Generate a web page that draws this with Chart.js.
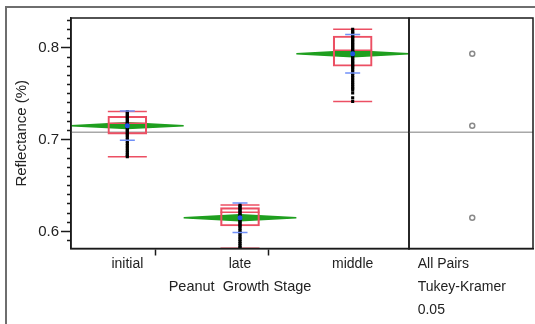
<!DOCTYPE html>
<html>
<head>
<meta charset="utf-8">
<script src="https://cdn.jsdelivr.net/npm/chart.js@4"></script>
<style>
  html, body { margin: 0; padding: 0; background: #fff; overflow: hidden; }
  #wrap { position: relative; width: 535px; height: 324px; }
  #outer { position: absolute; left: 5px; top: 6px; width: 560px; height: 340px; border: 2px solid #6e6e6e; box-sizing: border-box; }
  canvas { position: absolute; top: 0; }
  #main { left: 0; }
  #pairs { left: 408px; }
</style>
</head>
<body>
<div id="wrap">
  <div id="outer"></div>
  <canvas id="main" width="410" height="324"></canvas>
  <canvas id="pairs" width="127" height="324"></canvas>
</div>
<script>
const categories = ['initial', 'late', 'middle'];

const initialObs = [0.7306, 0.729, 0.7275, 0.726, 0.7245, 0.723, 0.7215, 0.720, 0.7185, 0.717, 0.716, 0.7145, 0.713, 0.7115, 0.710, 0.7085, 0.707, 0.7055, 0.704, 0.702, 0.700, 0.698, 0.696, 0.694, 0.692, 0.690, 0.688, 0.686, 0.684, 0.6825, 0.6814];
const lateObs = [0.629, 0.6275, 0.626, 0.6245, 0.623, 0.6215, 0.620, 0.6185, 0.617, 0.6155, 0.614, 0.6125, 0.611, 0.6095, 0.608, 0.6065, 0.605, 0.603, 0.601, 0.599, 0.597, 0.595, 0.593, 0.591, 0.589, 0.587, 0.585, 0.583, 0.582];
const middleObs = [0.8202, 0.8185, 0.817, 0.8155, 0.814, 0.8125, 0.811, 0.8095, 0.808, 0.8065, 0.805, 0.8035, 0.802, 0.8005, 0.799, 0.7975, 0.796, 0.7945, 0.793, 0.7915, 0.790, 0.7885, 0.787, 0.7855, 0.784, 0.7825, 0.781, 0.7795, 0.778, 0.776, 0.774, 0.772, 0.770, 0.768, 0.766, 0.764, 0.762, 0.760, 0.758, 0.756, 0.7545, 0.751, 0.7455, 0.7415];

const means = [0.7153, 0.6150, 0.7936];
const meanCI = [0.0032, 0.0032, 0.0032];
const stdDevs = [0.016, 0.016, 0.021];
const q1 = [0.7061, 0.6060, 0.7800];
const medians = [0.7180, 0.6210, 0.7973];
const q3 = [0.7255, 0.6260, 0.8129];
const whiskerLow = [0.6814, 0.5818, 0.7415];
const whiskerHigh = [0.7306, 0.6290, 0.8202];
const grandMean = 0.708;

const yLabels = [0.6, 0.7, 0.8];
const pairsLabel = ['All Pairs', 'Tukey-Kramer', '0.05'];

const FONT = "'Liberation Sans', Arial, sans-serif";
const INK = '#1a1a1a';
const RED = '#ec4f63';
const GREEN = '#1f9f1f';

const Y_MIN = 0.5815, Y_MAX = 0.8325;
const AXIS_H = 75.5;

const center = i => i + 0.5;
const atCenters = vals => vals.map((v, i) => ({ x: center(i), y: v }));
const isMajor = v => yLabels.some(m => Math.abs(m - v) < 1e-6);
const tickVal = c => (c.tick ? c.tick.value : NaN);

const diamond = i => [
  { x: i, y: means[i] },
  { x: center(i), y: means[i] + meanCI[i] },
  { x: i + 1, y: means[i] },
  { x: center(i), y: means[i] - meanCI[i] },
  { x: i, y: means[i] }
];

const framePlugin = {
  id: 'frame',
  afterDraw(chart) {
    const { ctx, chartArea: a } = chart;
    ctx.save();
    ctx.strokeStyle = INK;
    ctx.lineWidth = 1.5;
    ctx.strokeRect(a.left, a.top, a.right - a.left, a.bottom - a.top);
    ctx.restore();
  }
};

Chart.defaults.font.family = FONT;
Chart.defaults.color = '#222';

const noPlugins = { legend: { display: false }, tooltip: { enabled: false } };

new Chart(document.getElementById('main'), {
  type: 'scatter',
  data: {
    datasets: [
      {
        type: 'line', data: [{ x: 0, y: grandMean }, { x: 3, y: grandMean }],
        borderColor: '#a8a8a8', borderWidth: 1.5, pointRadius: 0, order: 10
      },
      ...categories.map((c, i) => ({
        type: 'line', data: diamond(i), borderColor: GREEN, backgroundColor: GREEN,
        borderWidth: 1.5, fill: 'shape', pointRadius: 0, tension: 0, order: 8
      })),
      {
        type: 'bar', data: categories.map((c, i) => ({ x: center(i), y: [q1[i], q3[i]] })),
        backgroundColor: 'transparent', borderColor: RED, borderWidth: 1.5,
        borderSkipped: false, barThickness: 39, order: 6
      },
      {
        type: 'scatter', data: [...atCenters(whiskerHigh), ...atCenters(whiskerLow), ...atCenters(medians)],
        pointStyle: 'line', pointRadius: 19.5, pointBorderColor: RED, pointBorderWidth: 1.5, order: 5
      },
      {
        type: 'scatter',
        data: [initialObs, lateObs, middleObs].flatMap((obs, i) => obs.map(v => ({ x: center(i), y: v }))),
        pointStyle: 'rect', pointRadius: 2.2, pointBackgroundColor: '#000', pointBorderWidth: 0, order: 3
      },
      {
        type: 'scatter',
        data: [...atCenters(means.map((m, i) => m + stdDevs[i])), ...atCenters(means.map((m, i) => m - stdDevs[i]))],
        pointStyle: 'line', pointRadius: 7.5, pointBorderColor: '#7090f8', pointBorderWidth: 1.5, order: 2
      },
      {
        type: 'scatter', data: atCenters(means),
        pointRadius: 2.5, pointBackgroundColor: '#1f55e0', pointBorderWidth: 0, order: 1
      }
    ]
  },
  options: {
    responsive: false,
    animation: false,
    events: [],
    layout: { autoPadding: false, padding: { top: 18, right: 1, left: 0, bottom: 0 } },
    plugins: noPlugins,
    scales: {
      x: {
        type: 'linear', min: 0, max: 3, offset: false,
        afterBuildTicks: s => {
          s.ticks = categories.flatMap((c, i) => i ? [{ value: i }, { value: center(i) }] : [{ value: center(i) }]);
        },
        afterFit: s => { s.height = AXIS_H; },
        border: { color: INK, width: 1.5 },
        grid: {
          drawOnChartArea: false, tickLength: 7, tickWidth: 1.5,
          tickColor: c => Number.isInteger(tickVal(c)) ? INK : 'transparent'
        },
        ticks: {
          autoSkip: false, maxRotation: 0, padding: 0, font: { size: 14 },
          callback: v => Number.isInteger(v) ? '' : categories[Math.floor(v)]
        },
        title: { display: true, text: 'Peanut  Growth Stage', font: { size: 14.5 }, padding: { top: 0, bottom: 28 } }
      },
      y: {
        min: Y_MIN, max: Y_MAX,
        afterBuildTicks: s => {
          const t = [];
          for (let k = 59; k <= 83; k++) t.push({ value: k / 100 });
          s.ticks = t;
        },
        afterFit: s => { s.width = 71; },
        border: { color: INK, width: 1.5 },
        grid: {
          drawOnChartArea: false, tickLength: 10, tickWidth: 1.5, tickColor: INK,
          tickBorderDash: c => (!c.tick || isMajor(c.tick.value)) ? [] : [0, 6, 4, 0]
        },
        ticks: {
          autoSkip: false, padding: 2, font: { size: 15 },
          callback: v => isMajor(v) ? v.toFixed(1) : ''
        },
        title: { display: true, text: 'Reflectance (%)', font: { size: 15 }, padding: { top: 13, bottom: 0 } }
      }
    }
  },
  plugins: [framePlugin]
});

new Chart(document.getElementById('pairs'), {
  type: 'scatter',
  data: {
    datasets: [
      {
        type: 'line', data: [{ x: 0, y: grandMean }, { x: 1, y: grandMean }],
        borderColor: '#a8a8a8', borderWidth: 1.5, pointRadius: 0, order: 5
      },
      {
        type: 'scatter', data: means.map(m => ({ x: 0.51, y: m })),
        pointRadius: 2.5, pointBackgroundColor: '#fff', pointBorderColor: '#8a8a8a', pointBorderWidth: 1.5, order: 1
      }
    ]
  },
  options: {
    responsive: false,
    animation: false,
    events: [],
    layout: { autoPadding: false, padding: { top: 18, right: 2, left: 1, bottom: 0 } },
    plugins: noPlugins,
    scales: {
      x: {
        type: 'linear', min: 0, max: 1,
        afterBuildTicks: s => { s.ticks = [{ value: 0.07 }]; },
        afterFit: s => { s.height = AXIS_H; },
        border: { color: INK, width: 1.5 },
        grid: { drawOnChartArea: false, drawTicks: false },
        ticks: {
          autoSkip: false, maxRotation: 0, align: 'start', padding: 4,
          font: { size: 14, lineHeight: '23px' },
          callback: () => pairsLabel
        }
      },
      y: { display: false, min: Y_MIN, max: Y_MAX }
    }
  },
  plugins: [framePlugin]
});
</script>
</body>
</html>
